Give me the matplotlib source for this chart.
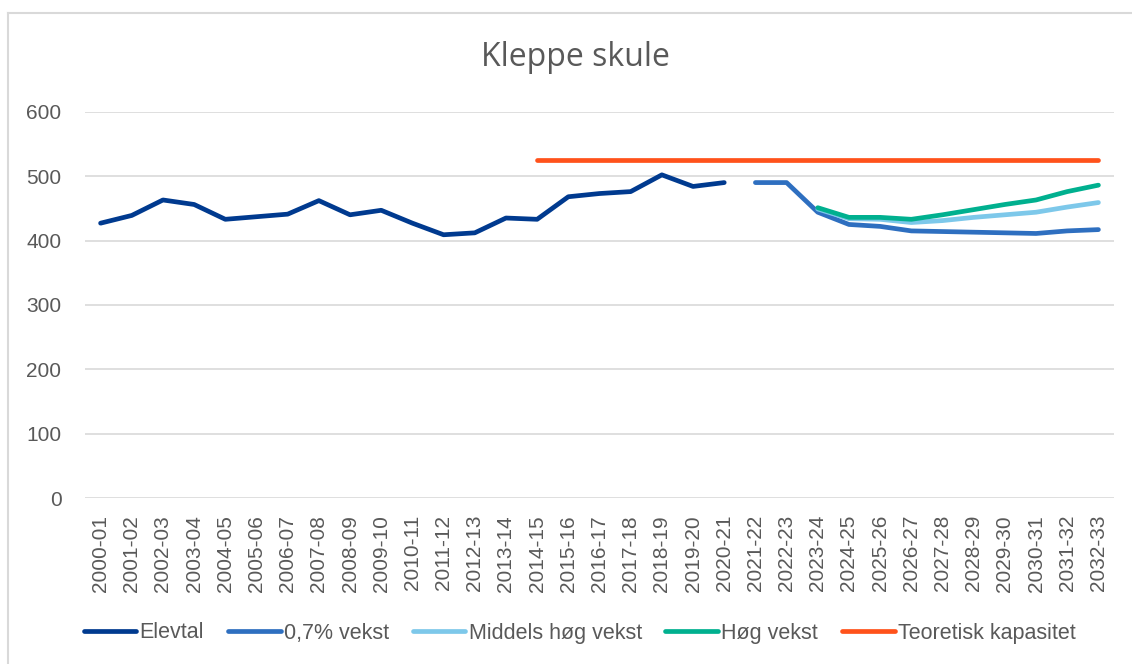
import numpy as np
import matplotlib
matplotlib.use('Agg')
import matplotlib.pyplot as plt
from matplotlib.lines import Line2D

years = ['2000-01', '2001-02', '2002-03', '2003-04', '2004-05', '2005-06', '2006-07',
         '2007-08', '2008-09', '2009-10', '2010-11', '2011-12', '2012-13', '2013-14',
         '2014-15', '2015-16', '2016-17', '2017-18', '2018-19', '2019-20', '2020-21',
         '2021-22', '2022-23', '2023-24', '2024-25', '2025-26', '2026-27', '2027-28',
         '2028-29', '2029-30', '2030-31', '2031-32', '2032-33']

# each series: first year index + values
elevtal_start = 0
elevtal = [427, 439, 463, 456, 433, 437, 441, 462, 440, 447, 427, 409, 412, 435,
           433, 468, 473, 476, 502, 484, 490]

vekst07_start = 21
vekst07 = [490, 490, 444, 425, 422, 415, 414, 413, 412, 411, 415, 417]

middels_start = 23
middels = [449, 434, 433, 428, 431, 436, 440, 444, 452, 459]

hog_start = 23
hog = [451, 436, 436, 433, 440, 448, 456, 463, 476, 486]

kapasitet_start = 14
kapasitet = [525] * 19

series = [
    ('Elevtal', elevtal_start, elevtal, '#003A8F'),
    ('0,7% vekst', vekst07_start, vekst07, '#2E6FC0'),
    ('Middels høg vekst', middels_start, middels, '#7DC8EA'),
    ('Høg vekst', hog_start, hog, '#00B08F'),
    ('Teoretisk kapasitet', kapasitet_start, kapasitet, '#FF521B'),
]

fig = plt.figure(figsize=(11.32, 6.64), dpi=100)
ax = fig.add_axes([85 / 1132, 1 - 498.3 / 664, 1029 / 1132, 386.6 / 664])

x = np.arange(len(years))
for label, start, vals, color in series:
    y = np.full(len(years), np.nan)
    y[start:start + len(vals)] = vals
    ax.plot(x, y, color=color, lw=3.4, solid_capstyle='round', solid_joinstyle='round', label=label)

ax.set_xlim(-0.5, len(years) - 0.5)
ax.set_ylim(0, 600)
ax.set_yticks(range(0, 601, 100))
ax.set_xticks(x)
ax.set_xticklabels(years, rotation=90)
ax.grid(axis='y', color='#D9D9D9', lw=1.2)
ax.set_axisbelow(True)
for s in ax.spines.values():
    s.set_visible(False)
ax.tick_params(axis='both', length=0, labelsize=15, labelcolor='#595959')
ax.tick_params(axis='y', pad=17)
ax.tick_params(axis='x', pad=12)
for t in ax.get_xticklabels() + ax.get_yticklabels():
    t.set_family('Liberation Sans')

fig.text(0.508, 1 - 58 / 664, 'Kleppe skule', ha='center', va='center',
         fontsize=23, color='#595959', family='Open Sans')

handles = [Line2D([0], [0], color=c, lw=3.4, solid_capstyle='round') for _, _, _, c in series]
leg = fig.legend(handles, [s[0] for s in series], loc='center', bbox_to_anchor=(0.512, 1 - 633 / 664),
                 ncol=5, frameon=False, handlelength=2.45, handletextpad=0.15, columnspacing=1.1,
                 prop={'family': 'Liberation Sans', 'size': 15.5})
for t in leg.get_texts():
    t.set_color('#595959')

# outer chart border
fig.add_artist(Line2D([8 / 1132, 8 / 1132], [0, 1 - 13 / 664], color='#D9D9D9', lw=1.5, transform=fig.transFigure))
fig.add_artist(Line2D([8 / 1132, 1], [1 - 13 / 664, 1 - 13 / 664], color='#D9D9D9', lw=1.5, transform=fig.transFigure))

fig.savefig('out.png', dpi=100)
